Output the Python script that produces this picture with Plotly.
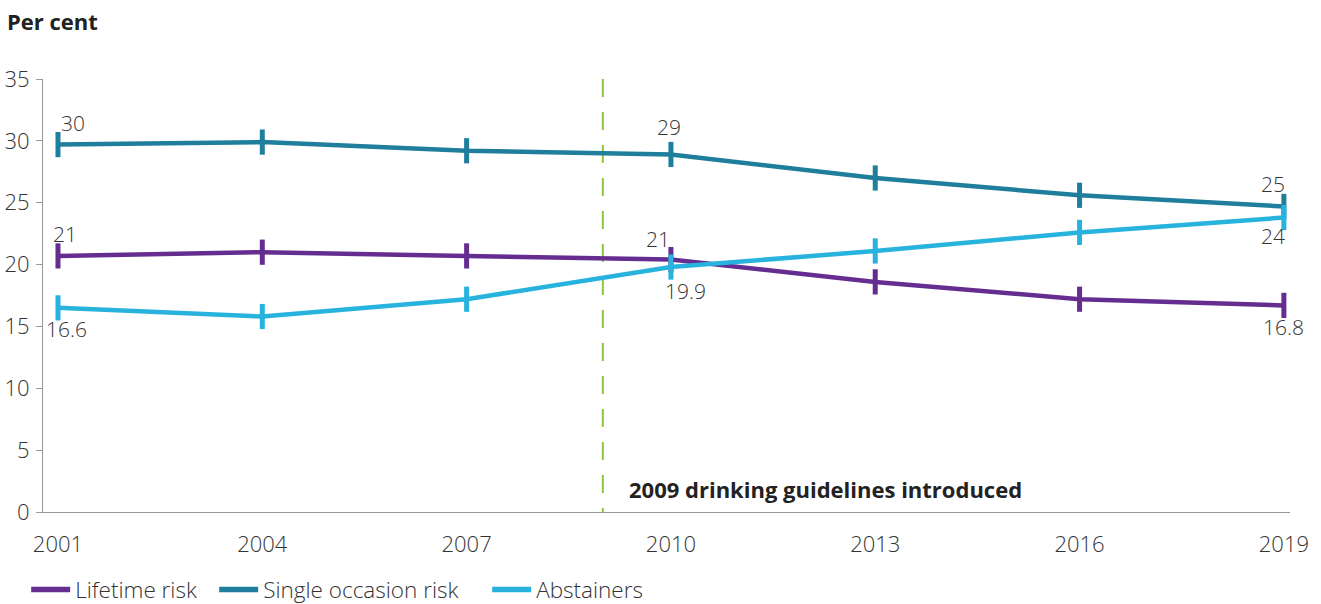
import plotly.graph_objects as go

years = [2001, 2004, 2007, 2010, 2013, 2016, 2019]
lifetime = [20.7, 21.0, 20.7, 20.4, 18.6, 17.2, 16.7]
single = [29.7, 29.9, 29.2, 28.9, 27.0, 25.6, 24.7]
abstainers = [16.5, 15.8, 17.2, 19.8, 21.1, 22.6, 23.8]

names = ["Lifetime risk", "Single occasion risk", "Abstainers"]
colors = ["#662D91", "#1F7E9B", "#27B3DD"]
legend_widths = [134, 219, 140]

# labels: (series index, year index, text, xshift, yshift)
labels = [
    (1, 0, "30", 15, 22),
    (0, 0, "21", 7, 22),
    (2, 0, "16.6", 9, -21),
    (1, 3, "29", -2, 27),
    (0, 3, "21", -13, 21),
    (2, 3, "19.9", 15, -24),
    (1, 6, "25", -11, 22),
    (2, 6, "24", -11, -18),
    (0, 6, "16.8", 0, -22),
]
guideline_year = 2009
ytick_vals = [0, 5, 10, 15, 20, 25, 30, 35]

LIGHT = dict(family="Open Sans", weight=300, color="#333333")

series = [lifetime, single, abstainers]
fig = go.Figure()
for s, name, c in zip(series, names, colors):
    fig.add_trace(go.Scatter(
        x=years, y=s, name=name, mode="lines+markers", showlegend=False,
        line=dict(color=c, width=4.5),
        marker=dict(symbol="line-ns", size=18, line=dict(color=c, width=5)),
        cliponaxis=False,
    ))
for name, c, w in zip(names, colors, legend_widths):
    fig.add_trace(go.Scatter(
        x=[None], y=[None], name=name, mode="lines",
        line=dict(color=c, width=5.5), legendwidth=w,
    ))

fig.add_shape(type="line", x0=guideline_year, x1=guideline_year, y0=35, y1=0,
              xref="x", yref="y", layer="below",
              line=dict(color="#8DC63F", width=2, dash="18px,15px"))

fig.add_annotation(x=guideline_year, y=0, xref="x", yref="y", xanchor="left", yanchor="middle",
                   text="<b>2009 drinking guidelines introduced</b>", showarrow=False,
                   xshift=24, yshift=23, font=dict(size=22, color="#222222", family="Open Sans"))

for si, yi, txt, dx, dy in labels:
    fig.add_annotation(x=years[yi], y=series[si][yi], text=txt, showarrow=False,
                       xshift=dx, yshift=dy, font=dict(size=21, **LIGHT))

fig.add_annotation(x=0, y=1, xref="paper", yref="paper", xanchor="left", yanchor="middle",
                   text="<b>Per cent</b>", showarrow=False, xshift=-38, yshift=58,
                   font=dict(size=22, color="#222222", family="Open Sans"))

fig.update_layout(
    width=1321, height=604,
    margin=dict(l=43, r=31, t=79, b=92, autoexpand=False),
    plot_bgcolor="white", paper_bgcolor="white",
    font=dict(size=20, **LIGHT),
    xaxis=dict(range=[2000.78, 2019.09], tickvals=years, showgrid=False, zeroline=False,
               showline=True, linecolor="#999999", linewidth=1, ticks="", ticklen=0,
               ticklabelstandoff=13, tickfont=dict(size=22, **LIGHT)),
    yaxis=dict(range=[0, 35], tickvals=ytick_vals, showgrid=False, zeroline=False,
               showline=True, linecolor="#999999", linewidth=1, ticks="outside", ticklen=6,
               tickcolor="#999999", ticklabelstandoff=2, tickfont=dict(size=22, **LIGHT)),
    legend=dict(orientation="h", x=-0.0135, xanchor="left", y=-0.18, yanchor="middle",
                font=dict(size=22.5, **LIGHT), itemwidth=39, tracegroupgap=0),
    showlegend=True,
)

fig.write_html("out.html", config={"displayModeBar": False},
               post_script="document.body.style.margin='0px';document.body.style.overflow='hidden';")
